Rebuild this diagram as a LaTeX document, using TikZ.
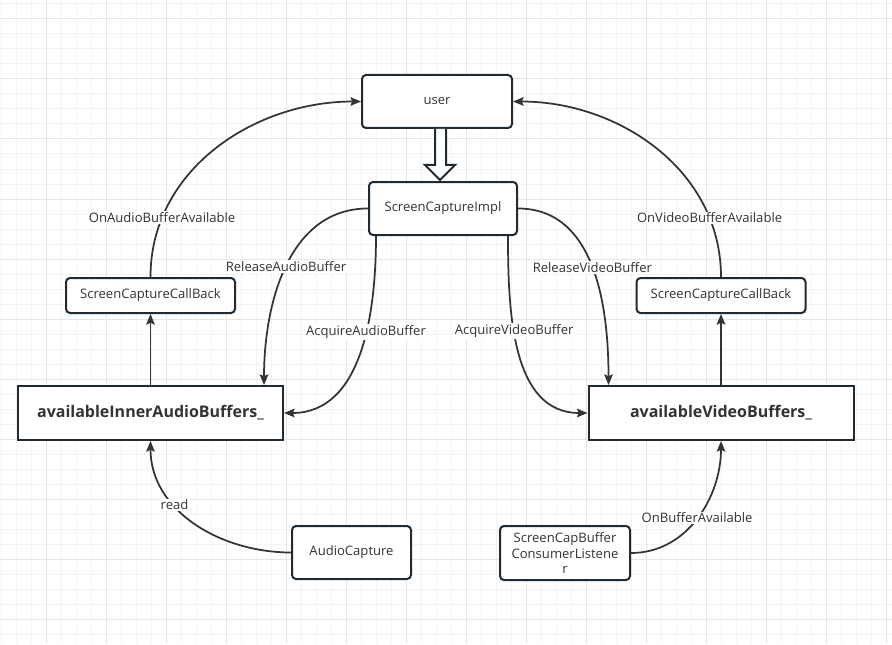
\documentclass[tikz,border=0pt]{standalone}
\usepackage{fontspec}
\setmainfont{Open Sans}
\usetikzlibrary{arrows.meta,positioning,calc}
\definecolor{gridminor}{HTML}{F3F3F3}
\definecolor{gridmajor}{HTML}{E6E6E6}
\definecolor{ink}{HTML}{333333}
\definecolor{edgeink}{HTML}{1F2A33}

\begin{document}
\begin{tikzpicture}[
    x=0.75pt, y=0.75pt,
    box/.style={rectangle, rounded corners=3pt, draw=edgeink, line width=1.5pt, fill=white, text=ink, align=center, inner sep=0pt, font=\fontsize{9.8}{11.5}\selectfont},
    bufbox/.style={rectangle, draw=edgeink, line width=1.5pt, fill=white, text=ink, minimum width=198.75pt, minimum height=40.5pt, font=\fontsize{12}{14}\selectfont\bfseries},
    arrow/.style={-{Stealth[length=8pt, width=6.5pt, inset=1.5pt]}, draw=ink, line width=1.3pt},
    lbl/.style={fill=white, text=ink, inner sep=1pt, font=\fontsize{9.8}{11.5}\selectfont}
]
\fill[white] (0,0) rectangle (892,644);
\useasboundingbox (0,0) rectangle (892,644);
\foreach \i in {1,16,...,886} \draw[gridminor, line width=0.75pt] (\i,0) -- (\i,644);
\foreach \j in {640,625,...,0} \draw[gridminor, line width=0.75pt] (0,\j) -- (892,\j);
\foreach \i in {46,106,...,886} \draw[gridmajor, line width=0.75pt] (\i,0) -- (\i,644);
\foreach \j in {625,565,...,0} \draw[gridmajor, line width=0.75pt] (0,\j) -- (892,\j);

\node[box, minimum width=112.5pt, minimum height=39.75pt] (user) at (437,542.5) {user};
\node[box, minimum width=111pt, minimum height=39.75pt] (impl) at (443,435.5) {ScreenCaptureImpl};
\node[bufbox] (abuf) at (150.5,231) {availableInnerAudioBuffers\_};
\node[bufbox] (vbuf) at (721,231) {availableVideoBuffers\_};
\node[box, minimum width=126.75pt, minimum height=26.25pt, above=53.25pt of abuf] (cba) {ScreenCaptureCallBack};
\node[box, minimum width=126.75pt, minimum height=26.25pt, above=53.25pt of vbuf] (cbv) {ScreenCaptureCallBack};
\node[box, minimum width=89.25pt, minimum height=39.75pt] (acap) at (351.5,91.5) {AudioCapture};
\node[box, minimum width=97.5pt, minimum height=40.5pt] (lis) at (565,91) {ScreenCapBuffer\\ConsumerListene\\r};

\draw[edgeink, line width=1.5pt, fill=white] ($(user.south)+(-2,0)$) -- ++(0,-36) -- ++(-10,0) -- ++(15,-15) -- ++(15,15) -- ++(-9,0) -- ++(0,36);

\draw[arrow] (cba.north) to[out=90, in=180] node[lbl, pos=0.2] {OnAudioBufferAvailable} (user.west);
\draw[arrow] (cbv.north) to[out=90, in=0] node[lbl, pos=0.2] {OnVideoBufferAvailable} (user.east);
\draw[arrow] (abuf) -- (cba);
\draw[arrow] (vbuf) -- (cbv);
\draw[arrow] (impl.west) to[out=180, in=90] node[lbl, pos=0.5] {ReleaseAudioBuffer} ($(abuf.north east)+(-20,0)$);
\draw[arrow] ($(impl.south west)+(8,0)$) to[out=-90, in=0] node[lbl, pos=0.4] {AcquireAudioBuffer} (abuf.east);
\draw[arrow] (impl.east) to[out=0, in=90] node[lbl, pos=0.5] {ReleaseVideoBuffer} ($(vbuf.north west)+(21,0)$);
\draw[arrow] ($(impl.south east)+(-10,0)$) to[out=-90, in=180] node[lbl, pos=0.4] {AcquireVideoBuffer} (vbuf.west);
\draw[arrow] (acap.west) to[out=180, in=-90] node[lbl, pos=0.64] {read} (abuf.south);
\draw[arrow] (lis.east) to[out=0, in=-90] node[lbl, pos=0.5] {OnBufferAvailable} (vbuf.south);
\end{tikzpicture}
\end{document}
